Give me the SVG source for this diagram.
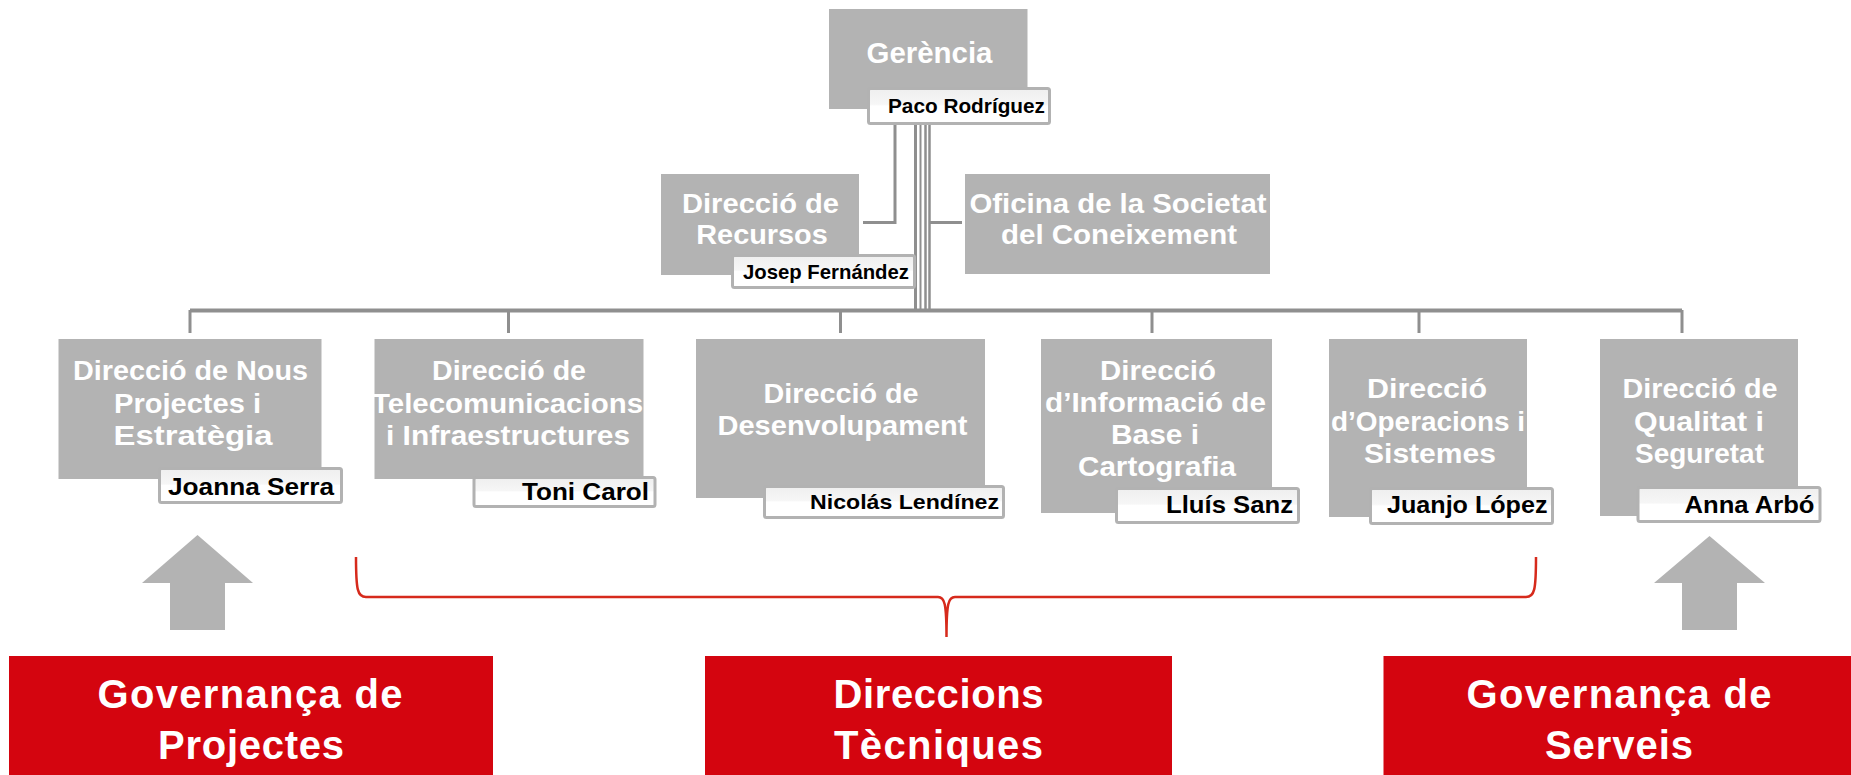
<svg xmlns="http://www.w3.org/2000/svg" width="1851" height="775" viewBox="0 0 1851 775">
<defs>
<linearGradient id="ng" x1="0" y1="0" x2="0" y2="1">
<stop offset="0" stop-color="#efefef"/><stop offset="0.45" stop-color="#f6f6f6"/><stop offset="0.5" stop-color="#ffffff"/><stop offset="1" stop-color="#ffffff"/>
</linearGradient>
<style>
.gb{fill:#b3b3b3}
.nb{fill:url(#ng);stroke:#b2b2b2;stroke-width:3}
.bt{font-family:"Liberation Sans Narrow","Liberation Sans",Arial,sans-serif;font-weight:bold;font-size:27px;fill:#ffffff;text-anchor:middle}
.nt{font-family:"Liberation Sans Narrow","Liberation Sans",Arial,sans-serif;font-weight:bold;fill:#000000;text-anchor:end}
.rb{fill:#d4050f}
.rt{font-family:"Liberation Sans",Arial,sans-serif;font-weight:bold;font-size:40px;fill:#ffffff;text-anchor:middle}
.ln{stroke:#8f8f8f;stroke-width:3;fill:none}
.ar{fill:#b3b3b3}
</style>
</defs>
<rect width="1851" height="775" fill="#ffffff"/>

<g id="connectors">
<polyline class="ln" points="895,120 895,222.5 863,222.5"/>
<line class="ln" x1="929" y1="222.5" x2="962" y2="222.5"/>
<line class="ln" x1="190" y1="310.5" x2="1682" y2="310.5" style="stroke-width:4"/>
<line class="ln" x1="915.5" y1="124" x2="915.5" y2="311"/>
<line class="ln" x1="920.5" y1="124" x2="920.5" y2="311" style="stroke-width:2"/>
<line class="ln" x1="925.5" y1="124" x2="925.5" y2="311" style="stroke-width:2.5"/>
<line class="ln" x1="929.5" y1="124" x2="929.5" y2="311" style="stroke-width:2.5"/>
<line class="ln" x1="190" y1="310" x2="190" y2="333"/>
<line class="ln" x1="508.5" y1="310" x2="508.5" y2="333"/>
<line class="ln" x1="840.5" y1="310" x2="840.5" y2="333"/>
<line class="ln" x1="1152" y1="310" x2="1152" y2="333"/>
<line class="ln" x1="1419" y1="310" x2="1419" y2="333"/>
<line class="ln" x1="1682" y1="310" x2="1682" y2="333"/>
</g>

<g id="gerencia">
<rect class="gb" x="829" y="9" width="198.5" height="100"/>
<text class="bt" x="929.5" y="63" style="font-size:29px" textLength="126" lengthAdjust="spacingAndGlyphs">Gerència</text>
<rect class="nb" x="868.5" y="88.5" width="181" height="35" rx="2"/>
<text class="nt" x="1045" y="113" style="font-size:21px" textLength="157" lengthAdjust="spacingAndGlyphs">Paco Rodríguez</text>
</g>

<g id="recursos">
<rect class="gb" x="661" y="174" width="198" height="101"/>
<text class="bt" x="760.5" y="213" textLength="157" lengthAdjust="spacingAndGlyphs">Direcció de</text>
<text class="bt" x="762" y="244" textLength="131.5" lengthAdjust="spacingAndGlyphs">Recursos</text>
<rect class="nb" x="732.5" y="255.5" width="182" height="32" rx="2"/>
<text class="nt" x="909" y="279" style="font-size:21px" textLength="166" lengthAdjust="spacingAndGlyphs">Josep Fernández</text>
</g>

<g id="oficina">
<rect class="gb" x="965" y="174" width="305" height="100"/>
<text class="bt" x="1118" y="213" textLength="297" lengthAdjust="spacingAndGlyphs">Oficina de la Societat</text>
<text class="bt" x="1119" y="244" textLength="236" lengthAdjust="spacingAndGlyphs">del Coneixement</text>
</g>

<g id="nous">
<rect class="gb" x="58.5" y="339" width="263" height="140"/>
<text class="bt" x="190.5" y="380" textLength="235" lengthAdjust="spacingAndGlyphs">Direcció de Nous</text>
<text class="bt" x="187.5" y="413" textLength="147" lengthAdjust="spacingAndGlyphs">Projectes i</text>
<text class="bt" x="193" y="445" textLength="159" lengthAdjust="spacingAndGlyphs">Estratègia</text>
<rect class="nb" x="159.5" y="468.5" width="182" height="34" rx="2"/>
<text class="nt" x="334" y="495" style="font-size:24px" textLength="166" lengthAdjust="spacingAndGlyphs">Joanna Serra</text>
</g>

<g id="telecom">
<rect class="gb" x="374.5" y="339" width="269" height="140"/>
<text class="bt" x="509" y="380" textLength="154" lengthAdjust="spacingAndGlyphs">Direcció de</text>
<text class="bt" x="507.5" y="413" textLength="271" lengthAdjust="spacingAndGlyphs">Telecomunicacions</text>
<text class="bt" x="508" y="445" textLength="244" lengthAdjust="spacingAndGlyphs">i Infraestructures</text>
<rect class="nb" x="474" y="477.5" width="181" height="29" rx="2"/>
<text class="nt" x="649" y="500" style="font-size:24px" textLength="127" lengthAdjust="spacingAndGlyphs">Toni Carol</text>
</g>

<g id="desenvolupament">
<rect class="gb" x="696" y="339" width="289" height="159"/>
<text class="bt" x="841" y="403" textLength="155" lengthAdjust="spacingAndGlyphs">Direcció de</text>
<text class="bt" x="842.5" y="435" textLength="250" lengthAdjust="spacingAndGlyphs">Desenvolupament</text>
<rect class="nb" x="764.5" y="486.5" width="239" height="31" rx="2"/>
<text class="nt" x="999" y="509" style="font-size:21px" textLength="189" lengthAdjust="spacingAndGlyphs">Nicolás Lendínez</text>
</g>

<g id="informacio">
<rect class="gb" x="1041" y="339" width="231" height="174"/>
<text class="bt" x="1158" y="379.5" textLength="116" lengthAdjust="spacingAndGlyphs">Direcció</text>
<text class="bt" x="1155.5" y="411.5" textLength="221" lengthAdjust="spacingAndGlyphs">d’Informació de</text>
<text class="bt" x="1155" y="443.5" textLength="88" lengthAdjust="spacingAndGlyphs">Base i</text>
<text class="bt" x="1157" y="476" textLength="158" lengthAdjust="spacingAndGlyphs">Cartografia</text>
<rect class="nb" x="1116.5" y="488.5" width="182" height="34" rx="2"/>
<text class="nt" x="1293" y="513" style="font-size:24px" textLength="127" lengthAdjust="spacingAndGlyphs">Lluís Sanz</text>
</g>

<g id="operacions">
<rect class="gb" x="1329" y="339" width="198" height="178"/>
<text class="bt" x="1427" y="398" textLength="120" lengthAdjust="spacingAndGlyphs">Direcció</text>
<text class="bt" x="1428" y="430.5" textLength="194" lengthAdjust="spacingAndGlyphs">d’Operacions i</text>
<text class="bt" x="1430" y="463" textLength="132" lengthAdjust="spacingAndGlyphs">Sistemes</text>
<rect class="nb" x="1370.5" y="488.5" width="182" height="35" rx="2"/>
<text class="nt" x="1547.5" y="513" style="font-size:24px" textLength="160.5" lengthAdjust="spacingAndGlyphs">Juanjo López</text>
</g>

<g id="qualitat">
<rect class="gb" x="1600" y="339" width="198" height="177"/>
<text class="bt" x="1700" y="398" textLength="155" lengthAdjust="spacingAndGlyphs">Direcció de</text>
<text class="bt" x="1699" y="430.5" textLength="130" lengthAdjust="spacingAndGlyphs">Qualitat i</text>
<text class="bt" x="1699.5" y="463" textLength="129" lengthAdjust="spacingAndGlyphs">Seguretat</text>
<rect class="nb" x="1638" y="487.5" width="182" height="34" rx="2"/>
<text class="nt" x="1814.5" y="513" style="font-size:24px" textLength="130" lengthAdjust="spacingAndGlyphs">Anna Arbó</text>
</g>

<g id="brace">
<path d="M356,557 C356,590 357.5,597 366,597 L938,597 C944.5,597 946.5,603 946.5,637 C946.5,603 948.5,597 955,597 L1526,597 C1534.5,597 1536,590 1536,557" fill="none" stroke="#d62a1c" stroke-width="2.5"/>
</g>

<g id="arrow-left">
<polygon class="ar" points="197.5,535 253,583 225,583 225,630 170,630 170,583 142,583"/>
</g>
<g id="arrow-right">
<polygon class="ar" points="1709.5,536 1765,583 1737,583 1737,630 1682,630 1682,583 1654,583"/>
</g>

<g id="gov-projectes">
<rect class="rb" x="9" y="656" width="484" height="119"/>
<text class="rt" x="250" y="708" textLength="305" lengthAdjust="spacing">Governança de</text>
<text class="rt" x="251" y="759" textLength="186" lengthAdjust="spacing">Projectes</text>
</g>

<g id="dir-tecniques">
<rect class="rb" x="705" y="656" width="467" height="119"/>
<text class="rt" x="938.5" y="708" textLength="210" lengthAdjust="spacing">Direccions</text>
<text class="rt" x="938.5" y="759" textLength="209" lengthAdjust="spacing">Tècniques</text>
</g>

<g id="gov-serveis">
<rect class="rb" x="1383.5" y="656" width="467.5" height="119"/>
<text class="rt" x="1619" y="708" textLength="305" lengthAdjust="spacing">Governança de</text>
<text class="rt" x="1619" y="759" textLength="148" lengthAdjust="spacing">Serveis</text>
</g>
</svg>
